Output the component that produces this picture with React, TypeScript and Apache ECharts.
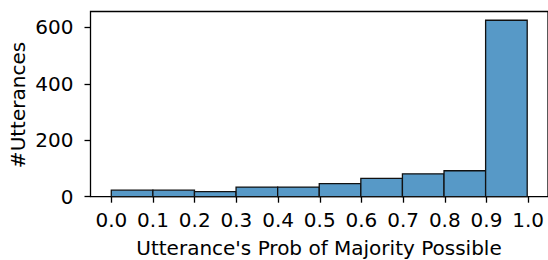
import React, { useEffect, useRef } from "react";
import * as echarts from "echarts";

const binEdges = [0.0, 0.1, 0.2, 0.3, 0.4, 0.5, 0.6, 0.7, 0.8, 0.9, 1.0];
const counts = [23, 23, 18, 34, 34, 46, 65, 81, 92, 625];
const xTickMin = 0;
const xTickMax = 1;
const xTickStep = 0.1;
const yTickMin = 0;
const yTickMax = 600;
const yTickStep = 200;
const xTitle = "Utterance's Prob of Majority Possible";
const yTitle = "#Utterances";

const FONT = "DejaVu Sans";
const FS = 20;

const X_MIN = -0.05;
const X_MAX = 1.05;
const Y_MAX = 656;
const LEFT = 90.5;
const RIGHT = -1;
const TOP = 11.5;
const BOTTOM = 63.3;
const W = 548;
const H = 260;

export default function App() {
  const ref = useRef<HTMLDivElement>(null);
  useEffect(() => {
    if (!ref.current) return;
    const chart = echarts.init(ref.current, null, { renderer: "svg" });
    const data = counts.map((c, i) => [binEdges[i], binEdges[i + 1], c]);

    const gw = W - RIGHT - LEFT;
    const gh = H - BOTTOM - TOP;
    const x0px = LEFT + ((xTickMin - X_MIN) / (X_MAX - X_MIN)) * gw;
    const x1px = LEFT + ((xTickMax - X_MIN) / (X_MAX - X_MIN)) * gw;
    const yTopPx = H - BOTTOM - (yTickMax / Y_MAX) * gh;

    const hidden = {
      axisLine: { show: false },
      axisTick: { show: false },
      axisLabel: { show: false },
      splitLine: { show: false },
    };
    const tickStyle = { show: true, inside: false, length: 6, lineStyle: { color: "#000", width: 1.3 } };

    chart.setOption({
      animation: false,
      backgroundColor: "#ffffff",
      grid: [
        {
          left: LEFT,
          right: RIGHT,
          top: TOP,
          bottom: BOTTOM,
          show: true,
          borderColor: "#000000",
          borderWidth: 1.3,
          backgroundColor: "transparent",
        },
        { left: x0px, right: W - x1px, top: TOP, bottom: BOTTOM },
        { left: LEFT, right: RIGHT, top: yTopPx, bottom: BOTTOM },
      ],
      xAxis: [
        { type: "value", gridIndex: 0, min: X_MIN, max: X_MAX, ...hidden },
        {
          type: "value",
          gridIndex: 1,
          min: xTickMin,
          max: xTickMax,
          interval: xTickStep,
          axisLine: { show: false },
          splitLine: { show: false },
          axisTick: tickStyle,
          axisLabel: {
            show: true,
            margin: 13,
            color: "#000",
            fontFamily: FONT,
            fontSize: FS,
            formatter: (v: number) => v.toFixed(1),
          },
        },
        { type: "value", gridIndex: 2, min: 0, max: 1, ...hidden },
      ],
      yAxis: [
        { type: "value", gridIndex: 0, min: 0, max: Y_MAX, ...hidden },
        { type: "value", gridIndex: 1, min: 0, max: 1, ...hidden },
        {
          type: "value",
          gridIndex: 2,
          min: yTickMin,
          max: yTickMax,
          interval: yTickStep,
          axisLine: { show: false },
          splitLine: { show: false },
          axisTick: tickStyle,
          axisLabel: {
            show: true,
            margin: 17,
            color: "#000",
            fontFamily: FONT,
            fontSize: FS,
            padding: [5, 0, 0, 0],
          },
        },
      ],
      series: [
        {
          type: "custom",
          xAxisIndex: 0,
          yAxisIndex: 0,
          data,
          renderItem: (params: any, api: any) => {
            const p0 = api.coord([api.value(0), api.value(2)]);
            const p1 = api.coord([api.value(1), 0]);
            return {
              type: "rect",
              shape: { x: p0[0], y: p0[1], width: p1[0] - p0[0], height: p1[1] - p0[1] },
              style: { fill: "#5799c7", stroke: "#111111", lineWidth: 1.3 },
            };
          },
        },
      ],
      graphic: [
        {
          type: "text",
          x: 319,
          y: 247.5,
          style: {
            text: xTitle,
            fontFamily: FONT,
            fontSize: FS,
            fill: "#000",
            textAlign: "center",
            textVerticalAlign: "middle",
          },
        },
        {
          type: "text",
          x: 18,
          y: 105,
          rotation: Math.PI / 2,
          style: {
            text: yTitle,
            fontFamily: FONT,
            fontSize: FS,
            fill: "#000",
            textAlign: "center",
            textVerticalAlign: "middle",
          },
        },
      ],
    });
    return () => chart.dispose();
  }, []);
  return (
    <div
      ref={ref}
      style={{ position: "absolute", left: 0, top: 0, width: W, height: H }}
    />
  );
}
